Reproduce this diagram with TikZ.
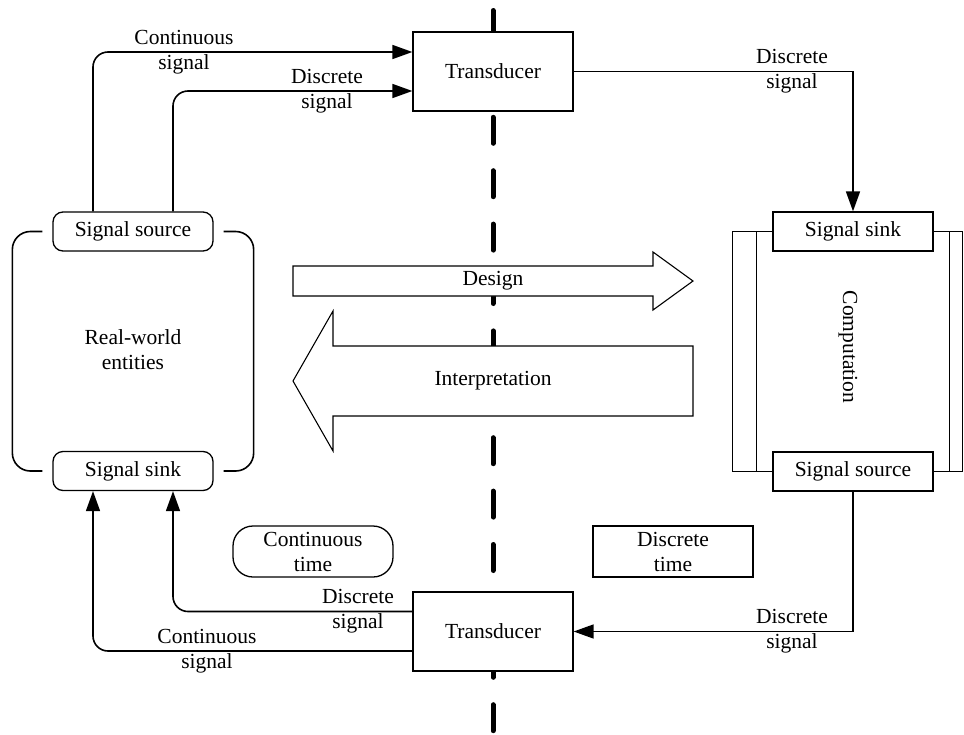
\documentclass[tikz,border=0pt]{standalone}
\usepackage{fontspec}
\setmainfont{Liberation Serif}
\usetikzlibrary{arrows.meta}

\begin{document}
\begin{tikzpicture}[x=1pt,y=-1pt,font=\fontsize{21.5}{25}\selectfont,
  box/.style={draw,line width=1.3pt,fill=white,minimum width=160pt,minimum height=39pt,inner sep=0pt},
  rbox/.style={box,rounded corners=10pt},
  frm/.style={line width=1.3pt},
  sig/.style={line width=1.6pt,-{Triangle[length=20pt,width=14pt]}},
  bigarrow/.style={line width=1.1pt,fill=white},
  lbl/.style={align=center,inner sep=0pt}]
\useasboundingbox (0,0) rectangle (964,734);
% border line between the two worlds
\draw[line width=5pt,line cap=round,dash pattern=on 26pt off 27.4pt] (493,10.5) -- (493,734);
% design / interpretation
\draw[bigarrow] (293,266) -- (653,266) -- (653,252) -- (693,281) -- (653,310) -- (653,296) -- (293,296) -- cycle;
\node (design) at (493,281) {Design};
\draw[bigarrow] (693,346) -- (333,346) -- (333,311) -- (293,381) -- (333,451) -- (333,416) -- (693,416) -- cycle;
\node (interp) at (493,381) {Interpretation};
% boxes
\node[box,minimum height=79pt] (trtop) at (493,71.5) {Transducer};
\node[box,minimum height=79pt] (trbot) at (493,631.5) {Transducer};
\node[rbox] (srcL) at (133,231.5) {Signal source};
\node[rbox] (sinkL) at (133,471) {Signal sink};
\node[box] (sinkR) at (853,231.5) {Signal sink};
\node[box] (srcR) at (853,471.5) {Signal source};
\node[rbox,rounded corners=20pt,minimum height=51pt,align=center] (ctime) at (313,551.5) {Continuous\\time};
\node[box,minimum height=51pt,align=center] (dtime) at (673,551.5) {Discrete\\time};
\node[lbl] (world) at (133,350) {Real-world\\entities};
\node[lbl,rotate=-90] (comp) at (848,347) {Computation};
% frames
\draw[line width=1.6pt,rounded corners=18pt] ([xshift=-10pt]srcL.west) -| ([xshift=-40pt]sinkL.west) -- ([xshift=-10pt]sinkL.west);
\draw[line width=1.6pt,rounded corners=18pt] ([xshift=10pt]srcL.east) -| ([xshift=40pt]sinkL.east) -- ([xshift=10pt]sinkL.east);
\draw[frm] (sinkR.west) -- ++(-40,0) |- (srcR.west);
\draw[frm] ([xshift=-16pt]sinkR.west) -- ([xshift=-16pt]srcR.west);
\draw[frm] (sinkR.east) -- ++(29,0) |- (srcR.east);
\draw[frm] ([xshift=16pt]sinkR.east) -- ([xshift=16pt]srcR.east);
% signals
\draw[sig,rounded corners=15pt] ([xshift=-40pt]srcL.north) |- ([yshift=19.5pt]trtop.west);
\draw[sig,rounded corners=15pt] ([xshift=40pt]srcL.north) |- ([yshift=-19.5pt]trtop.west);
\draw[sig] (trtop.east) -| (sinkR.north);
\draw[sig] (srcR.south) |- (trbot.east);
\draw[sig,rounded corners=15pt] ([yshift=20pt]trbot.west) -| ([xshift=40pt]sinkL.south);
\draw[sig,rounded corners=15pt] ([yshift=-19.5pt]trbot.west) -| ([xshift=-40pt]sinkL.south);
\node[lbl] (lcont1) at (184,52) {Continuous\\signal};
\node[lbl] (ldisc1) at (327,91) {Discrete\\signal};
\node[lbl] (ldisc2) at (792,71) {Discrete\\signal};
\node[lbl] (ldisc3) at (358,611) {Discrete\\signal};
\node[lbl] (lcont2) at (207,651) {Continuous\\signal};
\node[lbl] (ldisc4) at (792,631) {Discrete\\signal};
\end{tikzpicture}
\end{document}
